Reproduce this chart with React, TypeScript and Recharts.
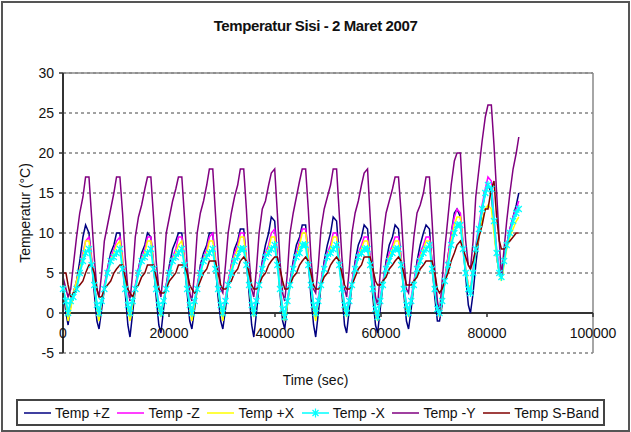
import React from 'react';
import { LineChart, Line, XAxis, YAxis, CartesianGrid, ReferenceLine } from 'recharts';

// sample times in seconds, about 11 per orbit
const timeSec = [
  0, 560, 960, 1460, 1960, 2560, 3160, 3760, 4260,
  4900, 5400, 5900, 6400, 6800, 7300, 7800, 8400, 9000, 9600, 10100,
  10740, 11240, 11740, 12240, 12640, 13140, 13640, 14240, 14840, 15440, 15940,
  16580, 17080, 17580, 18080, 18480, 18980, 19480, 20080, 20680, 21280, 21780,
  22420, 22920, 23420, 23920, 24320, 24820, 25320, 25920, 26520, 27120, 27620,
  28260, 28760, 29260, 29760, 30160, 30660, 31160, 31760, 32360, 32960, 33460,
  34100, 34600, 35100, 35600, 36000, 36500, 37000, 37600, 38200, 38800, 39300,
  39940, 40440, 40940, 41440, 41840, 42340, 42840, 43440, 44040, 44640, 45140,
  45780, 46280, 46780, 47280, 47680, 48180, 48680, 49280, 49880, 50480, 50980,
  51620, 52120, 52620, 53120, 53520, 54020, 54520, 55120, 55720, 56320, 56820,
  57460, 57960, 58460, 58960, 59360, 59860, 60360, 60960, 61560, 62160, 62660,
  63300, 63800, 64300, 64800, 65200, 65700, 66200, 66800, 67400, 68000, 68500,
  69140, 69640, 70140, 70640, 71040, 71540, 72040, 72640, 73240, 73840, 74340,
  74980, 75480, 75980, 76480, 76880, 77380, 77880, 78480, 79080, 79680, 80180,
  80820, 81320, 81820, 82320, 82720, 83220, 83720, 84320, 84920, 85520, 86000,
];

const tempPlusZ = [
  3, 0, -1.5, 1, 2.5, 4, 6.5, 9.5, 11,
  10, 6.5, 2.5, -1, -2, 0.5, 3, 5.5, 7.5, 8.5, 10,
  10, 6, 2.5, -1.5, -3, 0, 3, 5.5, 7.5, 8.5, 10,
  9.5, 6, 2, -1.5, -2.5, 0.5, 3.5, 6, 8, 9, 10,
  10, 6.5, 2.5, -1, -2, 0.5, 3, 6, 7.5, 8.5, 10,
  10, 6, 2, -1, -2, 0.5, 3.5, 6, 8, 9, 10.5,
  10.5, 6.5, 2.5, -1.5, -3, 0, 3.5, 6.5, 8.5, 10, 12,
  11.5, 7, 2.5, -1, -2, 1, 4, 6.5, 8.5, 9.5, 11,
  11, 6.5, 2, -1.5, -3, 0, 3.5, 6.5, 8.5, 10, 12,
  11.5, 7, 2.5, -1.5, -2.5, 0.5, 3.5, 6.5, 8.5, 9.5, 11,
  10.5, 6.5, 2, -1.5, -2.5, 0.5, 3.5, 6.5, 8.5, 9.5, 11,
  10.5, 6.5, 2.5, -1, -2, 0.5, 3.5, 6.5, 8.5, 10, 11,
  10.5, 6, 2, -1, -1, 1, 4, 7, 10, 12.5, 13,
  12, 8.5, 4.5, 1, 0, 2.5, 6, 9.5, 13, 15, 16,
  15, 11, 7, 5, 4.5, 6.5, 8.5, 10.5, 12, 13.5, 15,
];

const tempMinusZ = [
  3.5, 1, -0.5, 1, 2.5, 4, 5.5, 7.5, 9,
  9.5, 7, 4, 1, -0.5, 1.5, 3.5, 5.5, 7, 8, 9,
  9.5, 7, 4, 1, -0.5, 1.5, 3.5, 5.5, 7, 8, 9.5,
  9.5, 6.5, 3.5, 1, 0, 1.5, 3.5, 5.5, 7, 8, 9.5,
  9.5, 7, 4, 1, -0.5, 1.5, 3.5, 5.5, 7, 8, 9.5,
  10, 7, 3.5, 1, 0, 2, 4, 6, 7.5, 8.5, 10,
  10, 7, 4, 1, 0, 2, 4, 6, 7.5, 8.5, 10,
  10.5, 7, 3.5, 0.5, -0.5, 1.5, 4, 6, 7.5, 9, 10.5,
  10.5, 7.5, 4, 1, 0, 2, 4, 6, 7.5, 8.5, 10,
  10, 7, 3.5, 1, 0, 2, 4, 6, 7.5, 8.5, 9.5,
  9.5, 7, 3.5, 0.5, -0.5, 2, 4, 6, 7.5, 8.5, 9.5,
  9.5, 7, 3.5, 1, 0, 2, 4, 6, 7.5, 8.5, 9.5,
  9.5, 6.5, 3, 0.5, -0.5, 1.5, 4.5, 7, 10, 12, 13,
  12.5, 9, 5.5, 3.5, 3, 5.5, 8.5, 11, 13.5, 15.5, 17,
  16.5, 12, 8, 5.5, 4.5, 6.5, 8.5, 10.5, 12, 13, 14,
];

const tempPlusX = [
  3.5, 1, -1, 0.5, 2.5, 4, 5.5, 7, 9,
  9, 6.5, 3.5, 0.5, -1, 1.5, 3, 5, 6.5, 7.5, 8.5,
  9, 6.5, 3.5, 0.5, -1, 1, 3, 5, 6.5, 7.5, 9,
  9, 6, 3, 0.5, -0.5, 1.5, 3, 5, 6.5, 7.5, 8.5,
  9, 6.5, 3.5, 0.5, -1, 1, 3, 5, 6.5, 7.5, 9,
  9, 6.5, 3, 0.5, -1, 1.5, 3.5, 5.5, 7, 8, 9.5,
  9.5, 6.5, 3.5, 0.5, -0.5, 1.5, 3.5, 5.5, 7, 8, 9.5,
  9.5, 6.5, 3, 0, -1, 1, 3.5, 5.5, 7, 8.5, 10,
  10, 7, 3.5, 0.5, -1, 1.5, 3.5, 5.5, 7, 8, 9.5,
  9.5, 6.5, 3, 0.5, -0.5, 1.5, 3.5, 5.5, 7, 8, 9,
  9, 6.5, 3, 0, -1, 1.5, 3.5, 5.5, 7, 8, 9,
  9, 6.5, 3, 0.5, -0.5, 1.5, 3.5, 5.5, 7, 8, 9,
  9, 6, 3, 0.5, -0.5, 1.5, 4, 6.5, 9, 11, 12,
  12, 8.5, 5.5, 3.5, 3, 5, 7.5, 9.5, 11.5, 13, 13.5,
  13, 10, 7, 5, 4, 6, 8, 9.5, 10.5, 11.5, 12,
];

const tempMinusX = [
  3, 1.5, 0, 1.5, 2, 3, 5, 6.5, 7.5,
  8, 6, 3.5, 1, 0, 1.5, 3, 5, 6.5, 7, 7.5,
  8, 5.5, 3, 1, 0, 1.5, 3, 5, 6.5, 7, 7.5,
  8, 5.5, 3, 1, 0, 1.5, 3, 5, 6.5, 7, 7.5,
  8, 6, 3, 1, 0, 1.5, 3, 5, 6.5, 7, 7.5,
  8, 5.5, 3, 1, 0, 1.5, 3.5, 5, 6.5, 7, 8,
  8, 6, 3.5, 1, 0, 1.5, 3.5, 5.5, 7, 7.5, 8,
  8.5, 6, 3, 0.5, -0.5, 1.5, 3.5, 5.5, 7, 7.5, 8.5,
  8.5, 6, 3.5, 1, 0, 1.5, 3.5, 5.5, 7, 7.5, 8,
  8.5, 6, 3, 1, 0, 1.5, 3.5, 5.5, 7, 7.5, 8,
  8, 6, 3, 0.5, -0.5, 1.5, 3.5, 5.5, 6.5, 7.5, 8,
  8, 6, 3, 1, 0, 1.5, 3.5, 5.5, 6.5, 7.5, 8,
  8.5, 5.5, 3, 0.5, 0, 1.5, 4, 6, 8.5, 10, 11,
  11, 8, 5, 3, 2.5, 5, 8, 10.5, 13, 15, 16,
  15.5, 11.5, 7.5, 5, 4.5, 6.5, 8.5, 10, 11.5, 12.5, 13,
];

const tempMinusY = [
  4.5, 3, 2, 3, 6, 9.5, 12.5, 14.5, 17,
  17, 12, 7, 3, 2, 5, 9, 11, 13, 15, 17,
  17, 12.5, 7, 3, 1.5, 5, 9.5, 12, 13.5, 15.5, 17,
  17, 12, 6.5, 3, 2, 5.5, 10, 12, 14, 15.5, 17,
  17, 12, 6, 2.5, 1.5, 5, 10, 12.5, 14, 16, 18,
  18, 12.5, 7, 3, 2.5, 6, 10, 12.5, 14.5, 16, 18,
  18, 13, 7, 3, 2, 5.5, 10, 13, 14, 16, 17.5,
  18, 12.5, 6.5, 2.5, 1.5, 5, 10, 12.5, 14.5, 16.5, 18,
  18, 13, 7, 3, 2.5, 6, 10.5, 13, 14.5, 16, 18,
  18, 12.5, 7, 3, 2, 5.5, 10, 12.5, 14, 16, 17.5,
  18, 12, 6, 2, 1, 5, 9.5, 12.5, 14, 15.5, 17,
  17, 12.5, 7, 3, 2.5, 6, 9.5, 12.5, 13.5, 15, 17,
  17, 11.5, 5.5, 1.5, 0, 4, 8, 12, 16, 19, 20,
  20, 14, 9, 6, 5.5, 9, 14.5, 18, 21.5, 24.5, 26,
  26, 21, 15, 9, 4.5, 8, 11.5, 15, 18, 20, 22,
];

const tempSBand = [
  5, 5, 3.5, 2, 2.5, 3, 3.5, 4, 5,
  6, 6, 5, 3, 2, 2, 3, 3.5, 4, 5, 5.5,
  6, 6, 4.5, 3, 2.5, 2, 3, 3.5, 4.5, 5, 6,
  6, 6, 4.5, 3, 2.5, 2.5, 3, 4, 4.5, 5, 6,
  6, 6, 5, 3.5, 3, 2.5, 3, 4, 5, 5.5, 6.5,
  6.5, 6.5, 5, 3.5, 3, 3, 3.5, 4, 5, 5.5, 6.5,
  7, 6.5, 5, 3.5, 3, 3, 3.5, 4.5, 5, 6, 6.5,
  7, 7, 5.5, 4, 3, 3, 3.5, 4.5, 5, 6, 6.5,
  7, 6.5, 5, 3.5, 3, 3, 3.5, 4.5, 5, 6, 6.5,
  7, 6.5, 5, 3.5, 3, 3, 3.5, 4.5, 5.5, 6, 7,
  7, 7, 5.5, 4, 3.5, 3.5, 4, 4.5, 5.5, 6, 6.5,
  7, 6.5, 5, 3.5, 3.5, 3.5, 4, 4.5, 5.5, 6, 6.5,
  6.5, 6.5, 5, 3, 2.5, 3, 4, 5, 6.5, 7.5, 8.5,
  9, 8, 7, 6, 5.5, 6.5, 8, 9.5, 11, 13, 13,
  15.5, 16.5, 12, 9, 8, 8, 8.5, 9, 9.5, 10, 10,
];

const xTicks = [0, 20000, 40000, 60000, 80000, 100000];
const yTicks = [-5, 0, 5, 10, 15, 20, 25, 30];

const series = [
  { key: 'plusZ', name: 'Temp +Z', color: '#000080', values: tempPlusZ },
  { key: 'minusZ', name: 'Temp -Z', color: '#FF00FF', values: tempMinusZ },
  { key: 'plusX', name: 'Temp +X', color: '#FFFF00', values: tempPlusX },
  { key: 'minusX', name: 'Temp -X', color: '#00FFFF', values: tempMinusX, star: true },
  { key: 'minusY', name: 'Temp -Y', color: '#800080', values: tempMinusY },
  { key: 'sBand', name: 'Temp S-Band', color: '#800000', values: tempSBand },
];

const data = timeSec.map((t, i) => {
  const row: Record<string, number> = { t };
  series.forEach(s => { row[s.key] = s.values[i]; });
  return row;
});

const FONT = '"Liberation Sans", Arial, sans-serif';

const StarDot = (props: any) => {
  const { cx, cy } = props;
  if (cx == null || cy == null) return null;
  const r = 3;
  return (
    <path
      d={`M${cx - r},${cy - r}L${cx + r},${cy + r}M${cx - r},${cy + r}L${cx + r},${cy - r}M${cx},${cy - r - 1}L${cx},${cy + r + 1}`}
      stroke="#00FFFF"
      strokeWidth={1.2}
      fill="none"
    />
  );
};

// x axis crosses at y = 0 (40px above the plot bottom), labels drawn there
const XTick = ({ x, y, payload }: any) => (
  <g>
    <line x1={x} x2={x} y1={y - 40} y2={y - 36} stroke="#333" strokeWidth={1.5} />
    <text x={x} y={y - 15} textAnchor="middle" fontSize={14} fontFamily={FONT} fill="#111">
      {payload.value}
    </text>
  </g>
);

export default function App() {
  return (
    <div style={{ position: 'relative', width: 631, height: 432, background: '#fff', fontFamily: FONT }}>
      <style>{'body{margin:0}'}</style>
      <div style={{ position: 'absolute', left: 1, top: 1, width: 625, height: 427, border: '2px solid #555', pointerEvents: 'none' }} />

      <div style={{ position: 'absolute', left: 0, top: 17, width: 631, textAlign: 'center', fontWeight: 'bold', fontSize: 15, letterSpacing: -0.4, color: '#111' }}>
        Temperatur Sisi - 2 Maret 2007
      </div>

      <LineChart width={631} height={432} data={data} margin={{ top: 73, right: 38, bottom: 49, left: 3 }}>
        <CartesianGrid horizontal vertical={false} stroke="#444" strokeDasharray="3 3" />
        <ReferenceLine y={30} stroke="#888" strokeWidth={1.5} />
        <ReferenceLine x={100000} stroke="#888" strokeWidth={1.5} />
        <ReferenceLine y={0} stroke="#333" strokeWidth={2} />
        <XAxis
          dataKey="t"
          type="number"
          domain={[0, 100000]}
          ticks={xTicks}
          height={30}
          tickSize={0}
          tickMargin={0}
          axisLine={false}
          tickLine={false}
          tick={<XTick />}
          interval={0}
        />
        <YAxis
          type="number"
          domain={[-5, 30]}
          ticks={yTicks}
          width={60}
          interval={0}
          tickSize={4}
          tickMargin={5}
          axisLine={{ stroke: '#333', strokeWidth: 2 }}
          tickLine={{ stroke: '#333', strokeWidth: 1.5 }}
          tick={{ fill: '#111', fontSize: 14, fontFamily: FONT }}
        />
        {series.map(s => (
          <Line
            key={s.key}
            dataKey={s.key}
            name={s.name}
            stroke={s.color}
            strokeWidth={s.star ? 2 : 1.5}
            dot={s.star ? <StarDot /> : false}
            activeDot={false}
            isAnimationActive={false}
          />
        ))}
      </LineChart>

      <div style={{ position: 'absolute', left: 25, top: 213, transform: 'translate(-50%, -50%) rotate(-90deg)', whiteSpace: 'nowrap', fontSize: 14, color: '#111' }}>
        Temperatur (°C)
      </div>

      <div style={{ position: 'absolute', left: 0, top: 372, width: 631, textAlign: 'center', fontSize: 14, color: '#111' }}>
        Time (sec)
      </div>

      <div style={{ position: 'absolute', left: 16, top: 399, width: 589, height: 27, boxSizing: 'border-box', border: '2px solid #444', display: 'flex', alignItems: 'center', justifyContent: 'space-between', padding: '0 4px 0 6px', fontSize: 14, color: '#111' }}>
        {series.map(s => (
          <div key={s.key} style={{ display: 'flex', alignItems: 'center', whiteSpace: 'nowrap' }}>
            <svg width={27} height={10} style={{ marginRight: 4 }}>
              <line x1={0} x2={27} y1={5} y2={5} stroke={s.color} strokeWidth={1.5} />
              {s.star && (
                <path d="M10.5,2L16.5,8M10.5,8L16.5,2M13.5,0.5L13.5,9.5" stroke={s.color} strokeWidth={1.2} />
              )}
            </svg>
            <span>{s.name}</span>
          </div>
        ))}
      </div>
    </div>
  );
}
